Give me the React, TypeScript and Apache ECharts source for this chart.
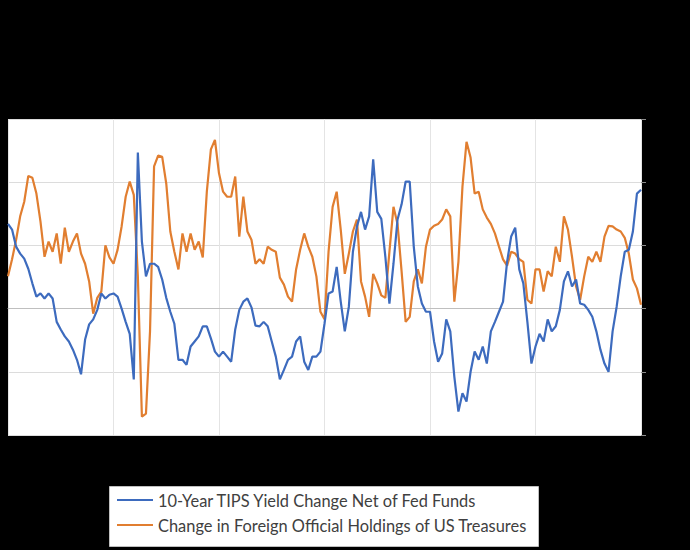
import React, { useEffect, useRef } from "react";
import * as echarts from "echarts";

const seriesNames = [
  "10-Year TIPS Yield Change Net of Fed Funds",
  "Change in Foreign Official Holdings of US Treasures",
];

const tipsYield = [
  1.34, 1.25, 0.98, 0.87, 0.79, 0.63, 0.40, 0.19, 0.24, 0.16,
  0.24, 0.16, -0.21, -0.33, -0.44, -0.52, -0.65, -0.81, -1.04, -0.49,
  -0.25, -0.17, -0.02, 0.24, 0.16, 0.22, 0.24, 0.19, 0.0, -0.21,
  -0.40, -1.12, 2.47, 1.06, 0.51, 0.71, 0.71, 0.66, 0.46, 0.17,
  -0.05, -0.24, -0.81, -0.81, -0.89, -0.60, -0.52, -0.44, -0.28, -0.28,
  -0.47, -0.68, -0.76, -0.68, -0.76, -0.84, -0.33, -0.02, 0.11, 0.16,
  0.02, -0.27, -0.28, -0.21, -0.28, -0.52, -0.76, -1.12, -0.97, -0.81,
  -0.76, -0.52, -0.44, -0.84, -0.97, -0.76, -0.76, -0.68, -0.24, 0.24,
  0.27, 0.66, 0.11, -0.36, 0.03, 0.90, 1.30, 1.53, 1.25, 1.46,
  2.36, 1.53, 1.42, 0.82, 0.08, 0.71, 1.41, 1.65, 2.01, 2.01,
  0.98, 0.35, 0.08, -0.05, -0.05, -0.52, -0.84, -0.71, -0.17, -0.36,
  -1.08, -1.63, -1.34, -1.47, -1.00, -0.68, -0.81, -0.60, -0.87, -0.36,
  -0.21, -0.05, 0.11, 0.74, 1.14, 1.28, 0.62, 0.40, -0.21, -0.87,
  -0.60, -0.40, -0.52, -0.17, -0.36, -0.28, -0.02, 0.43, 0.59, 0.35,
  0.46, 0.08, 0.06, -0.02, -0.13, -0.36, -0.65, -0.87, -1.00, -0.36,
  0.03, 0.51, 0.90, 0.93, 1.22, 1.82, 1.88,
];

const foreignHoldings = [
  0.51, 0.78, 1.09, 1.46, 1.69, 2.10, 2.07, 1.82, 1.38, 0.82,
  1.06, 0.90, 1.19, 0.71, 1.28, 0.90, 1.06, 1.19, 0.87, 0.71,
  0.43, -0.08, 0.17, 0.27, 1.00, 0.81, 0.71, 0.93, 1.30, 1.77,
  2.01, 1.80, 0.51, -1.71, -1.66, -0.36, 2.25, 2.42, 2.40, 1.98,
  1.22, 0.90, 0.62, 1.19, 0.90, 1.19, 0.93, 1.06, 0.81, 1.85,
  2.52, 2.67, 2.14, 1.85, 1.77, 1.77, 2.09, 1.14, 1.77, 1.22,
  1.09, 0.71, 0.78, 0.71, 0.98, 0.93, 0.90, 0.49, 0.38, 0.19,
  0.11, 0.62, 0.93, 1.19, 0.98, 0.82, 0.51, -0.05, -0.17, 0.90,
  1.61, 1.85, 1.25, 0.55, 0.87, 1.22, 1.41, 0.43, 0.19, -0.13,
  0.55, 0.40, 0.21, 0.17, 0.90, 1.61, 1.34, 0.59, -0.21, -0.13,
  0.43, 0.62, 0.40, 0.98, 1.25, 1.31, 1.34, 1.41, 1.57, 1.46,
  0.11, 0.74, 1.93, 2.64, 2.39, 1.82, 1.85, 1.57, 1.44, 1.34,
  1.19, 0.98, 0.78, 0.68, 0.90, 0.87, 0.78, 0.74, 0.14, 0.08,
  0.62, 0.62, 0.27, 0.59, 0.51, 0.98, 0.74, 1.46, 1.25, 0.82,
  0.35, 0.14, 0.51, 0.82, 0.74, 0.90, 0.74, 1.14, 1.31, 1.30,
  1.25, 1.22, 1.12, 0.87, 0.46, 0.32, 0.06,
];

const periods = tipsYield.map((_, i) => String(i));

export default function App() {
  const ref = useRef<HTMLDivElement>(null);

  useEffect(() => {
    document.body.style.margin = "0";
    document.body.style.background = "#000";
    if (!ref.current) return;
    const chart = echarts.init(ref.current, undefined, { renderer: "svg" });
    chart.setOption({
      animation: false,
      backgroundColor: "#000",
      grid: {
        left: 8,
        right: 49,
        top: 119,
        bottom: 115,
        show: true,
        backgroundColor: "#ffffff",
        borderWidth: 0,
      },
      graphic: [
        {
          type: "rect",
          left: 109,
          top: 486,
          shape: { width: 429, height: 60 },
          style: { fill: "#ffffff", stroke: "#bfbfbf", lineWidth: 1 },
          z: 0,
        },
      ],
      legend: {
        orient: "vertical",
        left: 112,
        top: 491,
        padding: [0, 5, 0, 5],
        itemWidth: 36,
        itemHeight: 14,
        itemGap: 7,
        icon: "path://M0,6 L36,6 L36,8 L0,8 Z",
        textStyle: {
          fontFamily: "Lato",
          fontSize: 16.4,
          lineHeight: 18,
          color: "#404040",
        },
        data: seriesNames,
        z: 5,
      },
      xAxis: {
        type: "category",
        data: periods,
        boundaryGap: false,
        axisLine: { show: true, onZero: true, lineStyle: { color: "#bfbfbf", width: 1 } },
        axisTick: { show: false },
        axisLabel: { show: false },
        splitLine: {
          show: true,
          interval: (index: number) => index % 26 === 0,
          lineStyle: { color: "#e4e4e4", width: 1 },
        },
      },
      yAxis: {
        type: "value",
        position: "right",
        min: -2,
        max: 3,
        interval: 1,
        axisLine: { show: false },
        axisTick: { show: true, length: 5, lineStyle: { color: "#8c8c8c" } },
        axisLabel: { show: false },
        splitLine: { show: true, lineStyle: { color: "#dcdcdc", width: 1 } },
      },
      series: [
        {
          name: seriesNames[0],
          type: "line",
          data: tipsYield,
          symbol: "none",
          lineStyle: { color: "#3D6BBE", width: 2.2 },
          itemStyle: { color: "#3D6BBE" },
          z: 3,
        },
        {
          name: seriesNames[1],
          type: "line",
          data: foreignHoldings,
          symbol: "none",
          lineStyle: { color: "#E17E30", width: 2.2 },
          itemStyle: { color: "#E17E30" },
          z: 2,
        },
      ],
    });
    return () => chart.dispose();
  }, []);

  return <div ref={ref} style={{ width: 690, height: 550, background: "#000" }} />;
}
